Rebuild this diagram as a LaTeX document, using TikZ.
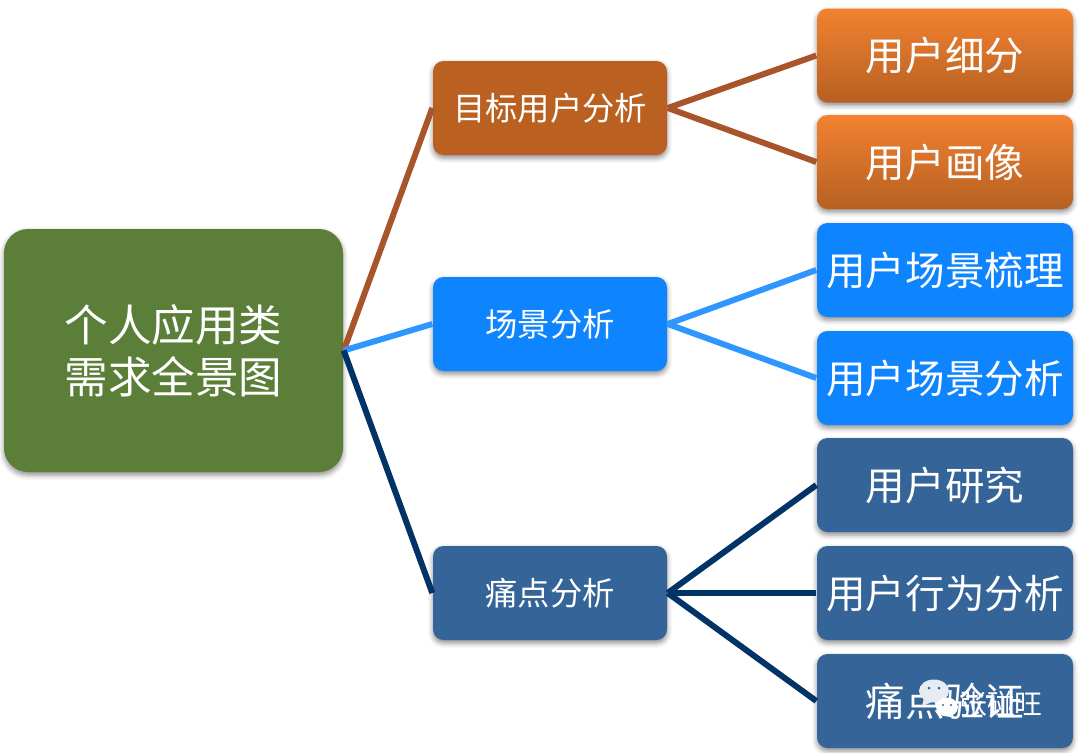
\documentclass[tikz,border=0pt]{standalone}
\usepackage{fontspec}
\setmainfont{Noto Sans CJK SC}[BoldFont={Noto Sans CJK SC}]
\usetikzlibrary{shadows,shadows.blur}
\definecolor{rootgreen}{HTML}{5B7F38}
\definecolor{brownbox}{HTML}{BA6122}
\definecolor{orangetop}{HTML}{F28230}
\definecolor{orangeend}{HTML}{B66022}
\definecolor{bluebox}{HTML}{0E84FF}
\definecolor{steelbox}{HTML}{356498}
\definecolor{brownline}{HTML}{A9552B}
\definecolor{blueline}{HTML}{3096FF}
\definecolor{navyline}{HTML}{023366}
\tikzset{
  box/.style={rectangle,rounded corners=1.05mm,inner sep=0pt,text=white,align=center,
    blur shadow={shadow xshift=0pt,shadow yshift=-0.3mm,shadow blur radius=0.5mm,shadow opacity=45}},
  midbox/.style={box,minimum width=2.34cm,minimum height=0.94cm,font=\fontsize{9.2}{11}\selectfont},
  leafbox/.style={box,minimum width=2.56cm,minimum height=0.94cm,font=\fontsize{11.25}{13}\selectfont},
  orangeleaf/.style={leafbox,top color=orangetop,bottom color=orangeend,middle color=orangetop!50!orangeend},
  link/.style={line width=1.7pt},
}
\begin{document}
\begin{tikzpicture}
  \useasboundingbox (0,0) rectangle (10.8,7.52);
  % root
  \node (root) [box,fill=rootgreen,minimum width=3.39cm,minimum height=2.43cm,rounded corners=2.4mm,
    font=\fontsize{12.4}{14.9}\selectfont] at (1.735,4.015) {个人应用类\\需求全景图};
  % second level
  \node (target) [midbox,fill=brownbox] at (5.5,6.44) {目标用户分析};
  \node (scene)  [midbox,fill=bluebox]  at (5.5,4.28) {场景分析};
  \node (pain)   [midbox,fill=steelbox] at (5.5,1.59) {痛点分析};
  % leaves
  \node (segment)  [orangeleaf] at (9.45,6.965) {用户细分};
  \node (persona)  [orangeleaf] at (9.45,5.9)   {用户画像};
  \node (sort)     [leafbox,fill=bluebox]  at (9.45,4.82) {用户场景梳理};
  \node (sceneana) [leafbox,fill=bluebox]  at (9.45,3.74) {用户场景分析};
  \node (research) [leafbox,fill=steelbox] at (9.45,2.67) {用户研究};
  \node (behave)   [leafbox,fill=steelbox] at (9.45,1.59) {用户行为分析};
  \node (verify)   [leafbox,fill=steelbox] at (9.45,0.51) {痛点验证};
  % connectors
  \draw[link,brownline] (root.east) -- (target.west);
  \draw[link,blueline]  (root.east) -- (scene.west);
  \draw[link,navyline]  (root.east) -- (pain.west);
  \draw[link,brownline] (target.east) -- (segment.west);
  \draw[link,brownline] (target.east) -- (persona.west);
  \draw[link,blueline]  (scene.east) -- (sort.west);
  \draw[link,blueline]  (scene.east) -- (sceneana.west);
  \draw[link,navyline]  (pain.east) -- (research.west);
  \draw[link,navyline]  (pain.east) -- (behave.west);
  \draw[link,navyline]  (pain.east) -- (verify.west);
  % watermark
  \fill[white!88!steelbox] (9.34,0.61) ellipse (0.15 and 0.115);
  \fill[white!88!steelbox] (9.24,0.54) -- (9.22,0.46) -- (9.32,0.5);
  \fill[steelbox] (9.29,0.64) circle (0.015);
  \fill[steelbox] (9.39,0.64) circle (0.015);
  \fill[white] (9.47,0.45) ellipse (0.11 and 0.095);
  \fill[white] (9.52,0.38) -- (9.56,0.33) -- (9.47,0.36);
  \fill[steelbox] (9.43,0.47) circle (0.012);
  \fill[steelbox] (9.51,0.47) circle (0.012);
  \node (mark) [text=white,font=\fontsize{7.9}{9}\selectfont,inner sep=0pt] at (10.01,0.48) {张碰旺};
\end{tikzpicture}
\end{document}
